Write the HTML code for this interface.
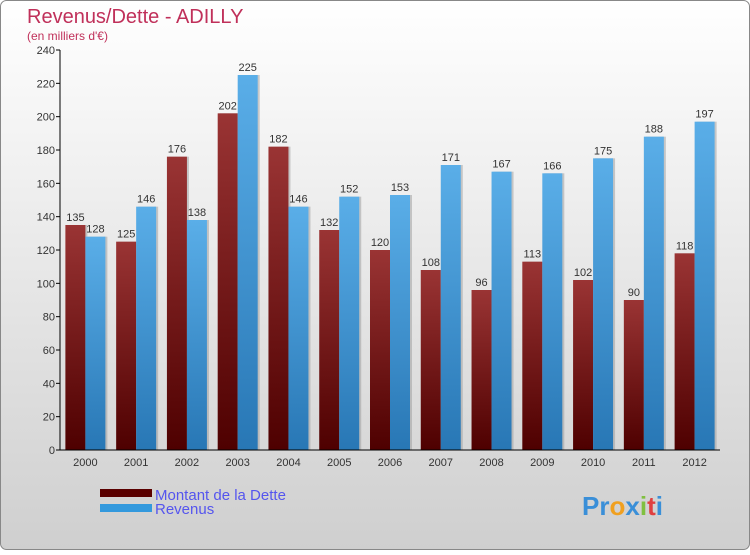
<!DOCTYPE html>
<html><head><meta charset="utf-8"><style>
body{margin:0;width:750px;height:550px;overflow:hidden;font-family:"Liberation Sans",sans-serif}
</style></head><body>
<svg width="750" height="550" xmlns="http://www.w3.org/2000/svg">
<defs>
<linearGradient id="bg" x1="0" y1="0" x2="0" y2="1"><stop offset="0" stop-color="#ffffff"/><stop offset="1" stop-color="#cfcfcf"/></linearGradient>
<linearGradient id="gd" x1="0" y1="0" x2="0" y2="1"><stop offset="0" stop-color="#9a3434"/><stop offset="1" stop-color="#4e0000"/></linearGradient>
<linearGradient id="gr" x1="0" y1="0" x2="0" y2="1"><stop offset="0" stop-color="#5aaee8"/><stop offset="1" stop-color="#2877b5"/></linearGradient>
</defs>
<rect x="0.5" y="0.5" width="749" height="549" rx="6" fill="url(#bg)" stroke="#888"/>
<text x="27" y="23" font-size="20" fill="#c0305a">Revenus/Dette - ADILLY</text>
<text x="27" y="40" font-size="12" fill="#c0305a">(en milliers d'€)</text>
<g id="plot"></g>
<g>
<rect x="100" y="489" width="52" height="8" fill="#5a0000"/>
<text x="155" y="500" font-size="15" fill="#5555ee">Montant de la Dette</text>
<rect x="100" y="504" width="52" height="8" fill="#3399dd"/>
<text x="155" y="514" font-size="15" fill="#5555ee">Revenus</text>
</g>
<text x="582" y="515" font-size="26" font-weight="bold"><tspan fill="#3a8fd8">Pr</tspan><tspan fill="#f0a020">o</tspan><tspan fill="#3a8fd8">x</tspan><tspan fill="#80c040">i</tspan><tspan fill="#e04040">t</tspan><tspan fill="#3a8fd8">i</tspan></text>
</svg>
<script>
const years=["2000","2001","2002","2003","2004","2005","2006","2007","2008","2009","2010","2011","2012"];
const dette=[135,125,176,202,182,132,120,108,96,113,102,90,118];
const revenus=[128,146,138,225,146,152,153,171,167,166,175,188,197];
const yTicks=[0,20,40,60,80,100,120,140,160,180,200,220,240];
const NS="http://www.w3.org/2000/svg";
const g=document.getElementById('plot');
const x0=60,x1=720,y0=450,y1=50,ymax=240;
const gw=(x1-x0)/years.length;
function yS(v){return y0-(v/ymax)*(y0-y1);}
function mk(t,a){const e=document.createElementNS(NS,t);for(const k in a)e.setAttribute(k,a[k]);g.appendChild(e);return e;}
yTicks.forEach(v=>{
 const l=mk('line',{x1:x0-4,x2:x0,y1:yS(v),y2:yS(v),stroke:'#000'});
 
 
 const t=mk('text',{x:x0-5,y:yS(v)+4,'text-anchor':'end','font-size':11,fill:'#333'});
 t.textContent=v;
 
 
});
years.forEach((yr,i)=>{
 const c=x0+gw*(i+0.5);
 [[dette[i],c-20,'url(#gd)','bar-dette'],[revenus[i],c,'url(#gr)','bar-revenus']].forEach(([v,x,f,n])=>{
  const s=mk('rect',{x:x+2,y:yS(v),width:20,height:y0-yS(v),fill:'#999',opacity:0.5});
  
  
  const r=mk('rect',{x:x,y:yS(v),width:20,height:y0-yS(v),fill:f});
  
  
  const t=mk('text',{x:x+10,y:yS(v)-4,'text-anchor':'middle','font-size':11,fill:'#333'});
  t.textContent=v;
  
  
 });
 const t=mk('text',{x:c,y:466,'text-anchor':'middle','font-size':11,fill:'#333'});
 t.textContent=yr;
 
 
});
const ax=mk('line',{x1:x0,x2:x0,y1:y1,y2:y0,stroke:'#000'});


const bx=mk('line',{x1:x0,x2:x1,y1:y0,y2:y0,stroke:'#000'});


</script>
</body></html>
